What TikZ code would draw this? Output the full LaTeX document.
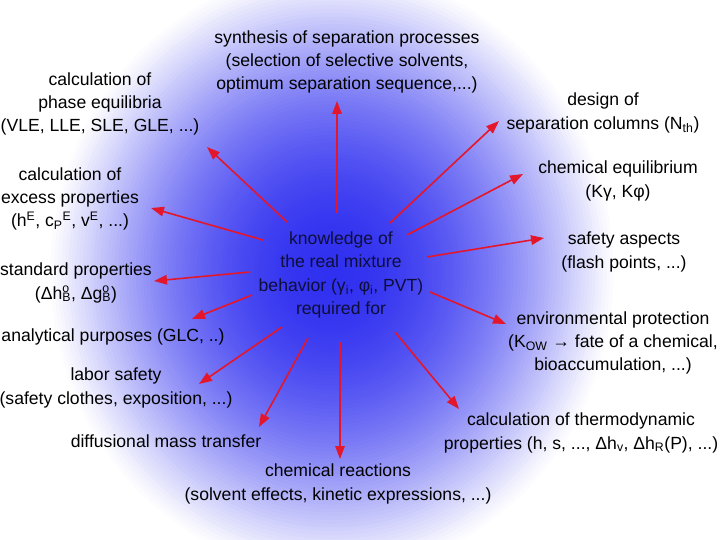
\documentclass[tikz,border=0pt]{standalone}
\usepackage{fontspec}
\setmainfont{Liberation Sans}
\usetikzlibrary{arrows.meta}
\definecolor{arrowred}{RGB}{228,22,44}
\definecolor{navytext}{RGB}{14,14,58}
\definecolor{glowblue}{RGB}{48,48,240}
\newcommand\mysubsup[2]{\rlap{\textsuperscript{#2}}\textsubscript{#1}}
\begin{document}
\begin{tikzpicture}[x=1pt,y=-1pt,
  lbl/.style={align=center,inner sep=0pt,font=\fontsize{17.6}{23.2}\selectfont},
  ctr/.style={lbl,text=navytext},
  arr/.style={draw=arrowred,line width=1.6pt,-{Triangle[length=13pt,width=9.5pt]},fill=arrowred}]
\useasboundingbox (0,0) rectangle (720,540);
\fill[white] (0,0) rectangle (720,540);
% radial glow behind the diagram
\coordinate (glowc) at (332,272);
\foreach \k in {79,78,...,1} {
  \pgfmathsetmacro\s{\k/80}
  \pgfmathsetmacro\p{100*(1-\s*\s)^1.15}
  \fill[glowblue!\p!white] (glowc) ellipse[x radius={\s*285pt}, y radius={\s*305pt}];
}

% nodes
\node[ctr] (core) at (341,275) {knowledge of\\the real mixture\\behavior (γ\textsubscript{i}, φ\textsubscript{i}, PVT)\\required for};
\node[lbl] (synth) at (347,62) {synthesis of separation processes\\(selection of selective solvents,\\optimum separation sequence,...)};
\node[lbl] (phase) at (100,104) {calculation of\\phase equilibria\\(VLE, LLE, SLE, GLE, ...)};
\node[lbl] (excess) at (70,199) {calculation of\\excess properties\\(h\textsuperscript{E}, c\textsubscript{P}\textsuperscript{E}, v\textsuperscript{E}, ...)};
\node[lbl] (std) at (76,283) {standard properties\\(Δh\mysubsup{B}{o}, Δg\mysubsup{B}{o})};
\node[lbl] (anal) at (113,337) {analytical purposes (GLC, ..)};
\node[lbl] (labor) at (116,388) {labor safety\\(safety clothes, exposition, ...)};
\node[lbl] (diff) at (166,441) {diffusional mass transfer};
\node[lbl] (react) at (338,484) {chemical reactions\\(solvent effects, kinetic expressions, ...)};
\node[lbl] (thermo) at (581,433) {calculation of thermodynamic\\properties (h, s, ..., Δh\textsubscript{v}, Δh\textsubscript{R}(P), ...)};
\node[lbl] (env) at (613,343) {environmental protection\\(K\textsubscript{OW} → fate of a chemical,\\bioaccumulation, ...)};
\node[lbl] (safe) at (624,252) {safety aspects\\(flash points, ...)};
\node[lbl] (cheq) at (618,181) {chemical equilibrium\\(Kγ, Kφ)};
\node[lbl] (design) at (603,113) {design of\\separation columns (N\textsubscript{th})};

% arrow end points
\coordinate (s1) at (337,213); \coordinate (e1) at (337,101);
\coordinate (s2) at (287,222); \coordinate (e2) at (207,147);
\coordinate (s3) at (263,240); \coordinate (e3) at (151,208);
\coordinate (s4) at (250,272); \coordinate (e4) at (154,281);
\coordinate (s5) at (252,295); \coordinate (e5) at (192,319);
\coordinate (s6) at (282,327); \coordinate (e6) at (199,384);
\coordinate (s7) at (308,338); \coordinate (e7) at (259,427);
\coordinate (s8) at (340,342); \coordinate (e8) at (340,459);
\coordinate (s9) at (395,332); \coordinate (e9) at (459,409);
\coordinate (s10) at (430,292); \coordinate (e10) at (506,324);
\coordinate (s11) at (427,257); \coordinate (e11) at (544,238);
\coordinate (s12) at (407,235); \coordinate (e12) at (523,174);
\coordinate (s13) at (390,223); \coordinate (e13) at (499,121);

\foreach \i in {1,...,13} {\draw[arr] (s\i) -- (e\i);}
\end{tikzpicture}
\end{document}
